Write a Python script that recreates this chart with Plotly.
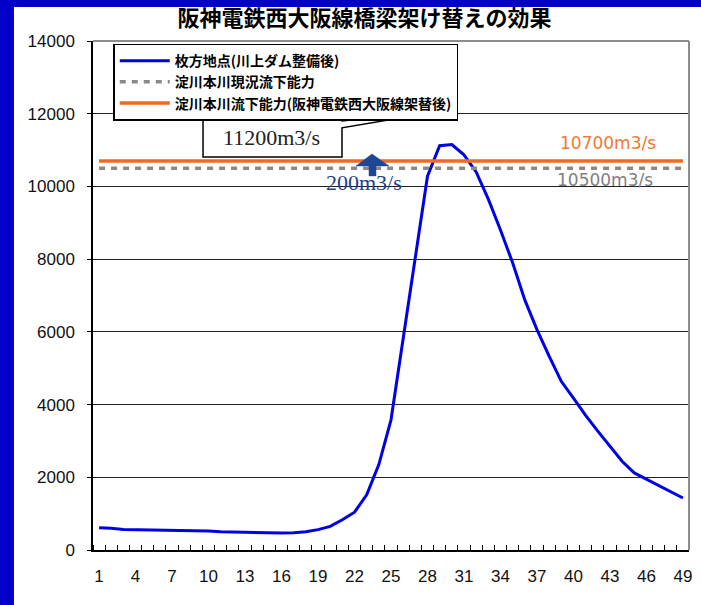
import plotly.graph_objects as go

# ---- data ----
hours = list(range(1, 50))
flow_hirakata = [610, 600, 565, 560, 560, 555, 535, 530, 530, 525,
                 500, 495, 470, 465, 465, 470, 475, 500, 560, 650,
                 830, 1040, 1520, 2350, 3580, 5750, 8050, 10280, 11120, 11150,
                 10870, 10400, 9650, 8800, 7900, 6880, 6060, 5330, 4640, 4180,
                 3700, 3270, 2850, 2440, 2120, 1950, 1760, 1590, 1430]
capacity_current = [10500] * 49
capacity_after = [10700] * 49
x_tick_labels = [1, 4, 7, 10, 13, 16, 19, 22, 25, 28, 31, 34, 37, 40, 43, 46, 49]
y_ticks = [0, 2000, 4000, 6000, 8000, 10000, 12000, 14000]

names = ["枚方地点(川上ダム整備後)", "淀川本川現況流下能力", "淀川本川流下能力(阪神電鉄西大阪線架替後)"]
title_text = "阪神電鉄西大阪線橋梁架け替えの効果"

JP = "Noto Sans CJK JP"
BLUE = "#0000E6"
ORANGE = "#F26A1E"
GRAY = "#8A8A8A"

fig = go.Figure()
fig.add_trace(go.Scatter(x=hours, y=flow_hirakata, mode="lines", name=names[0],
                         line=dict(color=BLUE, width=3)))
fig.add_trace(go.Scatter(x=hours, y=capacity_current, mode="lines", name=names[1],
                         line=dict(color=GRAY, width=3.5, dash="6px,6px")))
fig.add_trace(go.Scatter(x=hours, y=capacity_after, mode="lines", name=names[2],
                         line=dict(color=ORANGE, width=3.5)))

fig.update_layout(
    width=701, height=605,
    margin=dict(l=93, r=12, t=41, b=55, autoexpand=False),
    paper_bgcolor="white", plot_bgcolor="white",
    title=dict(text=title_text, x=0.52, xanchor="center", y=0.97, yanchor="middle",
               font=dict(family=JP, size=22, color="black", weight="bold")),
    showlegend=True,
    legend=dict(x=0.034, y=0.995, xanchor="left", yanchor="top",
                bgcolor="white", bordercolor="black", borderwidth=1.5,
                font=dict(family=JP, size=14, color="black", weight="bold"),
                itemwidth=50, tracegroupgap=0),
    xaxis=dict(range=[0.5, 49.5], tickmode="array", tickvals=x_tick_labels,
               ticktext=[str(v) for v in x_tick_labels], automargin=False,
               showgrid=False, zeroline=False, showline=True, linecolor="black", linewidth=1.5,
               ticks="", ticklabelstandoff=10,
               tickfont=dict(family="Liberation Sans", size=17, color="#111"),
               minor=dict(tickmode="linear", tick0=0.5, dtick=1, ticks="inside", ticklen=5,
                          tickcolor="black", tickwidth=1, showgrid=False)),
    yaxis=dict(range=[0, 14000], tickmode="array", tickvals=y_ticks,
               ticktext=[str(v) for v in y_ticks], automargin=False,
               showgrid=True, gridcolor="#222", gridwidth=1, zeroline=False,
               showline=True, linecolor="black", linewidth=1.5,
               ticks="outside", ticklen=4, tickcolor="black", ticklabelstandoff=9,
               tickfont=dict(family="Liberation Sans", size=17, color="#111")),
)

shapes = [
    # gray top and right plot border
    dict(type="line", xref="paper", yref="paper", x0=0, x1=1, y0=1, y1=1,
         line=dict(color="#8C8C8C", width=2)),
    dict(type="line", xref="paper", yref="paper", x0=1, x1=1, y0=0, y1=1,
         line=dict(color="#8C8C8C", width=2)),
    # callout box for 11200m3/s
    dict(type="path", xref="paper", yref="paper",
         path="M0.1846,0.8510 L0.4178,0.8510 L0.4178,0.8430 L0.5872,0.8628 L0.4178,0.8294 "
              "L0.4178,0.7723 L0.1846,0.7723 Z",
         fillcolor="white", line=dict(color="black", width=1.5)),
    # up arrow (200m3/s increase)
    dict(type="path", xref="paper", yref="paper",
         path="M0.4681,0.7782 L0.4966,0.7546 L0.4748,0.7546 L0.4748,0.7350 "
              "L0.4631,0.7350 L0.4631,0.7546 L0.4413,0.7546 Z",
         fillcolor="#1F4597", line=dict(color="#1F4597", width=0.5)),
    # blue frame of the slide
    dict(type="rect", xref="paper", yref="paper", x0=-0.16, x1=-0.1326, y0=-0.12, y1=1.09,
         fillcolor="#0000C8", line=dict(width=0)),
    dict(type="rect", xref="paper", yref="paper", x0=-0.16, x1=1.03, y0=1.0667, y1=1.09,
         fillcolor="#0000C8", line=dict(width=0)),
]
fig.update_layout(shapes=shapes)

annotations = [
    dict(text="11200m3/s", xref="paper", yref="paper", x=0.3003, y=0.8110,
         xanchor="center", yanchor="middle", showarrow=False,
         font=dict(family="Liberation Serif", size=22, color="#222")),
    dict(text="200m3/s", xref="paper", yref="paper", x=0.4547, y=0.7215,
         xanchor="center", yanchor="middle", showarrow=False,
         font=dict(family="Liberation Serif", size=22, color="#1F3F8A")),
    dict(text="10700m3/s", xref="paper", yref="paper", x=0.8641, y=0.8000,
         xanchor="center", yanchor="middle", showarrow=False,
         font=dict(family="DejaVu Sans", size=17, color="#EE7A35")),
    dict(text="10500m3/s", xref="paper", yref="paper", x=0.8591, y=0.7273,
         xanchor="center", yanchor="middle", showarrow=False,
         font=dict(family="DejaVu Sans", size=17, color="#808080")),
]
fig.update_layout(annotations=annotations)

fig.write_html("out.html", config={"displayModeBar": False},
               post_script="document.body.style.margin='0';")
